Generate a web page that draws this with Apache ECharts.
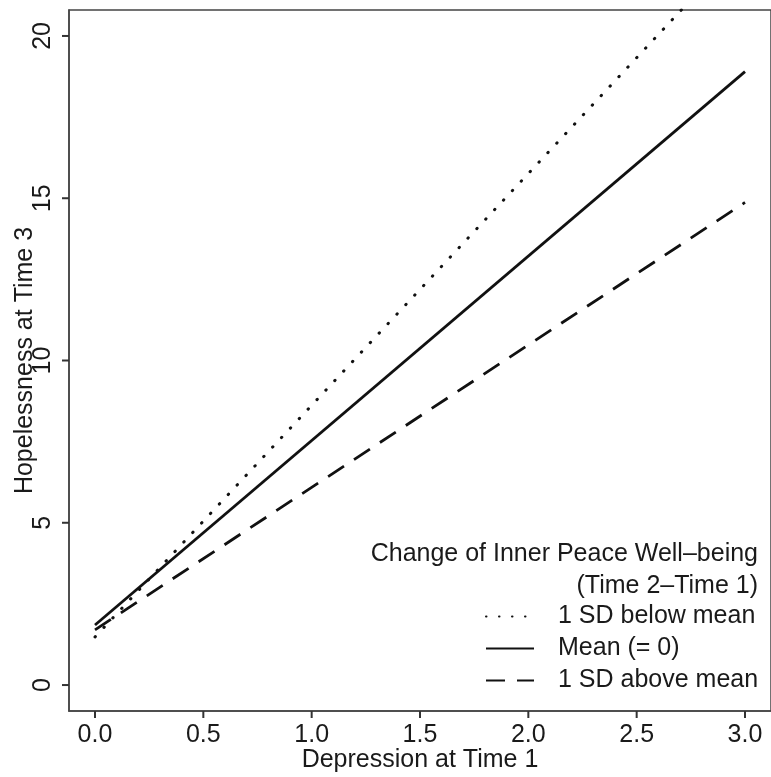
<!DOCTYPE html>
<html>
<head>
<meta charset="utf-8">
<script src="https://cdn.jsdelivr.net/npm/echarts@6/dist/echarts.min.js"></script>
<style>
  html, body { margin: 0; padding: 0; background: #fff; }
  #chart { width: 771px; height: 777px; }
</style>
</head>
<body>
<div id="chart"></div>
<script>
// values (straight simple slopes, end points only)
var depression = [0, 3];
var belowMean = [1.48, 22.9];   // 1 SD below mean (runs off the top)
var meanLine = [1.85, 18.9];    // Mean (= 0)
var aboveMean = [1.7, 14.87];   // 1 SD above mean

var xTicks = [0, 0.5, 1, 1.5, 2, 2.5, 3];
var yTicks = [0, 5, 10, 15, 20];

var FONT = "Liberation Sans";
var INK = "#1a1a1a";
var FRAME = "#444";
var TICK_LEN = 7;

function pairs(ys) {
  return depression.map(function (x, i) { return [x, ys[i]]; });
}

// outward tick marks, placed through the axes' own scale
function tickSeries(values, isX) {
  return {
    type: "custom",
    coordinateSystem: "cartesian2d",
    silent: true,
    clip: false,
    z: 10,
    data: values.map(function (v) { return isX ? [v, 0] : [0, v]; }),
    renderItem: function (params, api) {
      var p = api.coord([api.value(0), api.value(1)]);
      var base = api.coord([-0.12, -0.8]);
      var shape;
      if (isX) {
        shape = { x1: p[0], y1: base[1], x2: p[0], y2: base[1] + TICK_LEN };
      } else {
        shape = { x1: base[0] - TICK_LEN, y1: p[1], x2: base[0], y2: p[1] };
      }
      return { type: "line", shape: shape, style: { stroke: "#333", lineWidth: 2 } };
    }
  };
}

var chart = echarts.init(document.getElementById("chart"));

var option = {
  animation: false,
  backgroundColor: "#fff",
  color: ["#111", "#111", "#111"],
  textStyle: { fontFamily: FONT, color: INK },
  grid: {
    left: 69, top: 10, right: 0, bottom: 66,
    outerBoundsMode: "none",
    show: true, borderColor: FRAME, borderWidth: 1.5
  },
  xAxis: {
    type: "value",
    min: -0.12,
    max: 3.12,
    name: "Depression at Time 1",
    nameLocation: "middle",
    nameMoveOverlap: false,
    nameGap: 37,
    nameTextStyle: { fontSize: 25, color: INK, fontFamily: FONT },
    axisLine: { show: true, onZero: false, lineStyle: { color: FRAME, width: 1.5 } },
    axisTick: { show: false },
    axisLabel: {
      customValues: xTicks,
      fontSize: 25, color: INK, fontFamily: FONT, margin: 12,
      formatter: function (v) { return v.toFixed(1); }
    },
    splitLine: { show: false }
  },
  yAxis: {
    type: "value",
    min: -0.8,
    max: 20.8,
    name: "Hopelessness at Time 3",
    nameLocation: "middle",
    nameMoveOverlap: false,
    nameGap: 31,
    nameRotate: 90,
    nameTextStyle: { fontSize: 25, color: INK, fontFamily: FONT },
    axisLine: { show: true, onZero: false, lineStyle: { color: FRAME, width: 1.5 } },
    axisTick: { show: false },
    axisLabel: {
      customValues: yTicks,
      rotate: 90,
      fontSize: 25, color: INK, fontFamily: FONT, margin: 13
    },
    splitLine: { show: false }
  },
  legend: {
    orient: "vertical",
    left: 485,
    top: 604,
    padding: 0,
    itemWidth: 48,
    itemHeight: 20,
    itemGap: 7,
    itemStyle: { opacity: 0 },
    textStyle: { fontSize: 25, color: INK, fontFamily: FONT, lineHeight: 25, padding: [0, 0, 0, 19] },
    data: ["1 SD below mean", "Mean (= 0)", "1 SD above mean"]
  },
  graphic: [{
    type: "text",
    x: 758,
    y: 538,
    style: {
      text: "Change of Inner Peace Well\u2013being\n(Time 2\u2013Time 1)",
      font: "25px " + FONT,
      fill: INK,
      textAlign: "right",
      textVerticalAlign: "top",
      lineHeight: 32
    }
  }],
  series: [
    {
      name: "1 SD below mean",
      type: "line",
      data: pairs(belowMean),
      symbol: "none",
      itemStyle: { color: "#111" },
      lineStyle: { color: "#111", width: 3, type: [0.5, 12.5], cap: "round" }
    },
    {
      name: "Mean (= 0)",
      type: "line",
      data: pairs(meanLine),
      symbol: "none",
      itemStyle: { color: "#111" },
      lineStyle: { color: "#111", width: 2.8, type: "solid" }
    },
    {
      name: "1 SD above mean",
      type: "line",
      data: pairs(aboveMean),
      symbol: "none",
      itemStyle: { color: "#111" },
      lineStyle: { color: "#111", width: 2.8, type: [19, 12] }
    },
    tickSeries(xTicks, true),
    tickSeries(yTicks, false)
  ]
};

chart.setOption(option);
</script>
</body>
</html>
